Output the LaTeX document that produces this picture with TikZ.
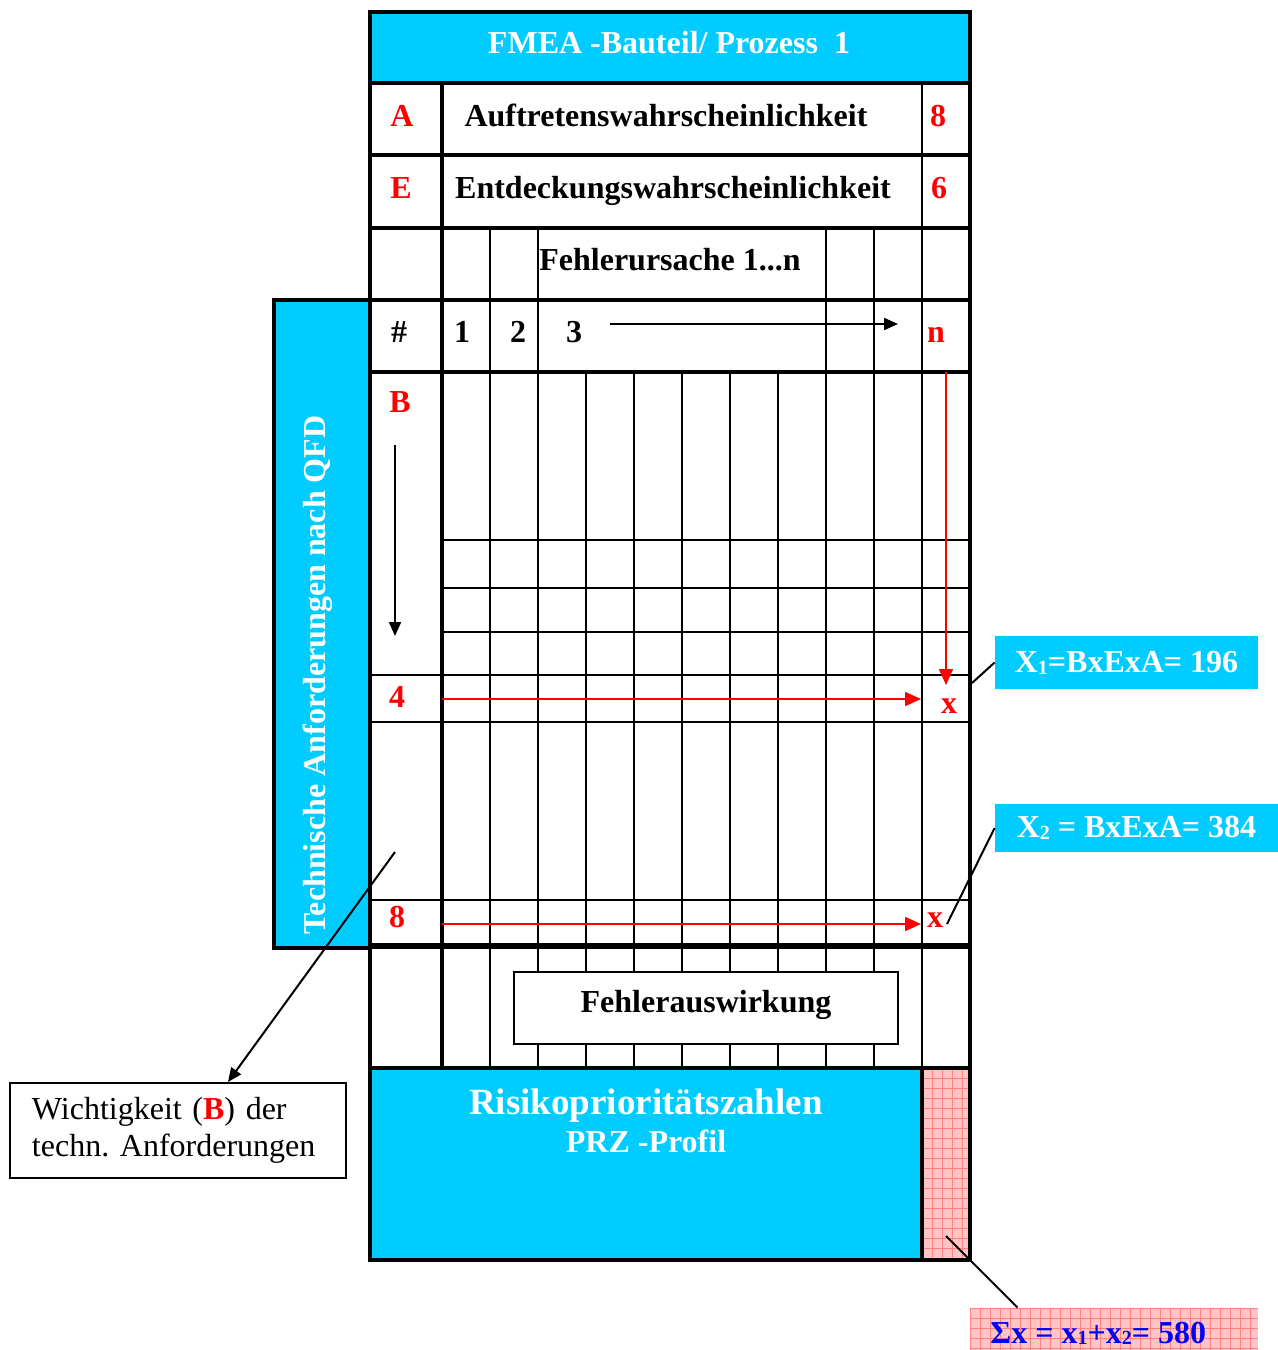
\documentclass[tikz,border=0pt]{standalone}
\usepackage{fontspec}
\setmainfont{Liberation Serif}
\usetikzlibrary{arrows.meta,calc}
\definecolor{cyanbox}{RGB}{0,204,255}
\definecolor{pinkfill}{RGB}{255,196,196}
\definecolor{pinkline}{RGB}{255,130,130}
\definecolor{sumblue}{RGB}{0,0,255}
\newcommand\mysub[1]{\raisebox{-0.06em}{\fontsize{10}{10}\selectfont #1}}
\begin{document}
\begin{tikzpicture}[x=0.5pt,y=-0.5pt,
  txt/.style={font=\fontsize{16}{19}\selectfont\bfseries, inner sep=0pt, anchor=base},
  rtxt/.style={txt, text=red},
  wtxt/.style={txt, text=white},
  thk/.style={line width=2pt},
  thn/.style={line width=1pt},
  tipblk/.style={-{Triangle[length=7pt,width=6pt]}},
  tipred/.style={draw=red, line width=1pt, -{Triangle[length=8pt,width=7pt]}, red},
  bluebox/.style={fill=cyanbox, inner sep=0pt, font=\fontsize{16}{19}\selectfont\bfseries, text=white},
]
\useasboundingbox (0,0) rectangle (1278,1350);

% --- coloured areas ---
\fill[cyanbox] (370,12) rectangle (970,83);
\fill[cyanbox] (370,1068) rectangle (922,1260);
\fill[pinkfill] (922,1068) rectangle (970,1260);
\begin{scope}
  \clip (922,1068) rectangle (970,1260);
  \foreach \i in {0,...,5} \draw[pinkline, line width=0.4pt] (922+\i*10,1068) -- (922+\i*10,1260);
  \foreach \i in {0,...,19} \draw[pinkline, line width=0.4pt] (922,1068+\i*10) -- (970,1068+\i*10);
\end{scope}
\path[draw, thk, fill=cyanbox] (274,300) rectangle (370,948);

% --- table lines ---
\foreach \x in {490,538,826,874,922} \draw[thn] (\x,228) -- (\x,1068);
\foreach \x in {586,634,682,730,778} \draw[thn] (\x,372) -- (\x,1068);
\foreach \y in {540,588,632} \draw[thn] (442,\y) -- (970,\y);
\foreach \y in {675,722,900} \draw[thn] (370,\y) -- (970,\y);
\draw[line width=1.3pt] (922,83) -- (922,228);
\foreach \y in {83,155,228,300,372,1068} \draw[thk] (370,\y) -- (970,\y);
\draw[line width=2.6pt] (370,946) -- (970,946);
\draw[thk] (442,83) -- (442,1068);
\draw[thk] (922,1068) -- (922,1260);
\draw[thk] (370,12) rectangle (970,1260);

% --- header texts ---
\node[wtxt] (head) at (669,53) {FMEA -Bauteil/ Prozess\ \ 1};
\node[rtxt] (la) at (402,126) {A};
\node[txt] (auf) at (666,126) {Auftretenswahrscheinlichkeit};
\node[rtxt] (va) at (938,126) {8};
\node[rtxt] (le) at (401,198) {E};
\node[txt] (ent) at (673,198) {Entdeckungswahrscheinlichkeit};
\node[rtxt] (ve) at (939,198) {6};
\node[txt] (fu) at (670,270) {Fehlerursache 1...n};
\node[txt] (hash) at (399,342) {\#};
\node[txt] (c1) at (462,342) {1};
\node[txt] (c2) at (518,342) {2};
\node[txt] (c3) at (574,342) {3};
\node[rtxt] (cn) at (936,342) {n};
\node[rtxt] (lb) at (400,412) {B};
\node[rtxt] (l4) at (397,707) {4};
\node[rtxt] (l8) at (397,927) {8};
\node[rtxt] (x4) at (949,713) {x};
\node[rtxt] (x8) at (935,927) {x};

% --- arrows inside table ---
\coordinate (ha) at (610,324); \coordinate (hb) at (898,324);
\draw[thn, tipblk] (ha) -- (hb);
\coordinate (va1) at (395,445); \coordinate (va2) at (395,636);
\draw[thn, tipblk] (va1) -- (va2);
\coordinate (ns) at (946,372); \coordinate (ne) at (946,685);
\draw[tipred] (ns) -- (ne);
\coordinate (r4s) at (442,699); \coordinate (r4e) at (921,699);
\draw[tipred] (r4s) -- (r4e);
\coordinate (r8s) at (442,924); \coordinate (r8e) at (921,924);
\draw[tipred] (r8s) -- (r8e);

% --- Fehlerauswirkung ---
\node (fa) [draw, fill=white, thn, minimum width=192pt, minimum height=36pt, inner sep=0pt,
  font=\fontsize{16}{19}\selectfont\bfseries, text height=0.7em, text depth=0.22em] at (706,1008) {Fehlerauswirkung};

% --- side texts ---
\node[wtxt, rotate=90] (tech) at (325,675) {Technische Anforderungen nach QFD};
\node[wtxt, font=\fontsize{18.5}{22}\selectfont\bfseries] (risk) at (646,1114) {Risikoprioritätszahlen};
\node[wtxt] (prz) at (646,1152) {PRZ -Profil};

% --- callout boxes ---
\node[bluebox, minimum width=131.5pt, minimum height=26.5pt] (x1box) at (1126.5,662.5) {X\mysub{1}=BxExA= 196};
\node[bluebox, minimum width=141.5pt, minimum height=24pt] (x2box) at (1136.5,828) {X\mysub{2} = BxExA= 384};
\coordinate (x1c) at (972,683);
\draw[thn] (x1c) -- (x1box.west);
\coordinate (x2c) at (947,924);
\draw[thn] (x2c) -- (x2box.west);

\node[fill=pinkfill, inner sep=0pt, minimum width=144pt, minimum height=21pt] (sbox) at (1114,1329) {};
\begin{scope}
  \clip (970,1308) rectangle (1258,1350);
  \foreach \i in {0,...,29} \draw[pinkline, line width=0.4pt] (970+\i*10,1308) -- (970+\i*10,1350);
  \foreach \i in {0,...,4} \draw[pinkline, line width=0.4pt] (970,1308+\i*10) -- (1258,1308+\i*10);
\end{scope}
\node[txt, anchor=base west, text=sumblue] (stxt) at (990,1343) {Σx = x\mysub{1}+x\mysub{2}= 580};
\coordinate (sc) at (946,1236);
\draw[thn] (sc) -- ($(sbox.north west)+(48,0)$);

\node[draw, line width=1pt, minimum width=168pt, minimum height=47.5pt, inner sep=0pt,
  text width=146pt, align=left, font=\fontsize{16}{18.5}\selectfont] (wbox) at (178,1130.5)
  {Wichtigkeit (\textcolor{red}{\textbf{B}}) der\\techn.\ Anforderungen};
\coordinate (ws) at (395,852);
\draw[thn, tipblk] (ws) -- ($(wbox.north)+(50,0)$);
\end{tikzpicture}
\end{document}
